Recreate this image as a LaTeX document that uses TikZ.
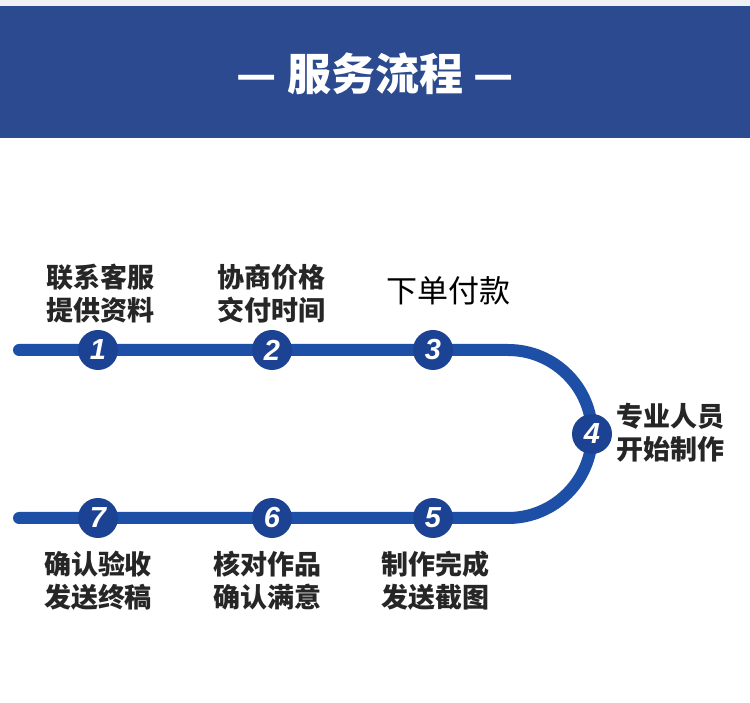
\documentclass[tikz,border=0pt]{standalone}
\usepackage{fontspec}
\newfontfamily\cjk{Noto Sans CJK SC}
\newfontfamily\numfont{Liberation Sans}
\definecolor{headblue}{HTML}{2B4A8F}
\definecolor{lineblue}{HTML}{1E4FA6}
\definecolor{dotblue}{HTML}{1C4393}
\definecolor{topstrip}{HTML}{EEF0F4}
\tikzset{
  track/.style={draw=lineblue,line width=12pt,line cap=round},
  dot/.style={circle,fill=dotblue,minimum size=40pt,inner sep=0pt,text=white,font=\numfont\bfseries\itshape\fontsize{29}{29}\selectfont},
  lbl/.style={align=center,inner sep=0pt,text=black!85,font=\cjk\bfseries\fontsize{27}{33}\selectfont},
}
\begin{document}
\begin{tikzpicture}[x=1pt,y=1pt]
\useasboundingbox (0,0) rectangle (750,702);
\fill[white] (0,0) rectangle (750,702);
\fill[topstrip] (0,696) rectangle (750,702);
\fill[headblue] (0,564) rectangle (750,696);
\node[text=white,font=\cjk\bfseries\fontsize{44}{44}\selectfont] (title) at (375,628) {— 服务流程 —};
% track
\coordinate (tl) at (19,352);
\coordinate (bl) at (19,184);
\coordinate (as) at (508,352);
\draw[track] (tl) -- (as) arc[start angle=90,end angle=-90,radius=84] -- (bl);
% dots
\node[dot] (n1) at (98,352) {1};
\node[dot] (n2) at (272,352) {2};
\node[dot] (n3) at (433,352) {3};
\node[dot] (n4) at (592,268) {4};
\node[dot] (n5) at (433,184) {5};
\node[dot] (n6) at (272,184) {6};
\node[dot] (n7) at (98,184) {7};
% labels
\node[lbl] (l1) at (100,408) {联系客服\\提供资料};
\node[lbl] (l2) at (271,408) {协商价格\\交付时间};
\node[lbl,font=\cjk\fontsize{31}{33}\selectfont,text=black] (l3) at (448,411) {下单付款};
\node[lbl,anchor=west] (l4) at (616,269) {专业人员\\开始制作};
\node[lbl] (l5) at (435,121) {制作完成\\发送截图};
\node[lbl] (l6) at (267,121) {核对作品\\确认满意};
\node[lbl] (l7) at (98,121) {确认验收\\发送终稿};
\end{tikzpicture}
\end{document}
